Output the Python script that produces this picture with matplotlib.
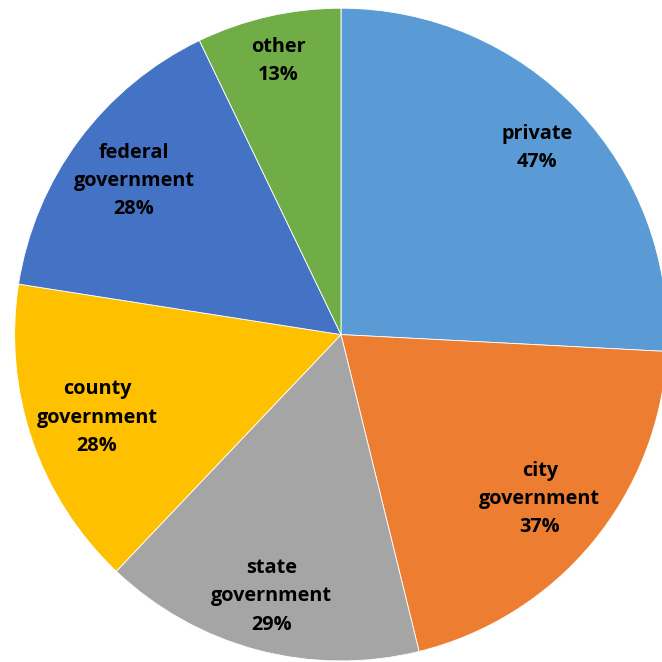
import numpy as np
import matplotlib
matplotlib.use('Agg')
import matplotlib.pyplot as plt

# Данные
categories = ['private', 'city\ngovernment', 'state\ngovernment',
              'county\ngovernment', 'federal\ngovernment', 'other']
values = [47, 37, 29, 28, 28, 13]
colors = ['#5B9BD5', '#ED7D31', '#A5A5A5', '#FFC000', '#4472C4', '#70AD47']
label_dist = [0.83, 0.79, 0.83, 0.79, 0.79, 0.86]

fig = plt.figure(figsize=(6.62, 6.62), dpi=100)
ax = fig.add_axes([0.0221, 0.0016, 0.986, 0.986])

wedges, _ = ax.pie(values, colors=colors, startangle=90, counterclock=False,
                   radius=1.0, wedgeprops=dict(edgecolor='white', linewidth=0.6))

for w, cat, v, d in zip(wedges, categories, values, label_dist):
    ang = np.deg2rad((w.theta1 + w.theta2) / 2)
    ax.text(d * np.cos(ang), d * np.sin(ang), f'{cat}\n{v}%',
            ha='center', va='center', fontsize=14.3, fontweight='bold',
            family='Open Sans', linespacing=1.55, color='black')

ax.set_xlim(-1, 1)
ax.set_ylim(-1, 1)
ax.set_aspect('equal')
ax.axis('off')

plt.savefig('out.png', dpi=100)
